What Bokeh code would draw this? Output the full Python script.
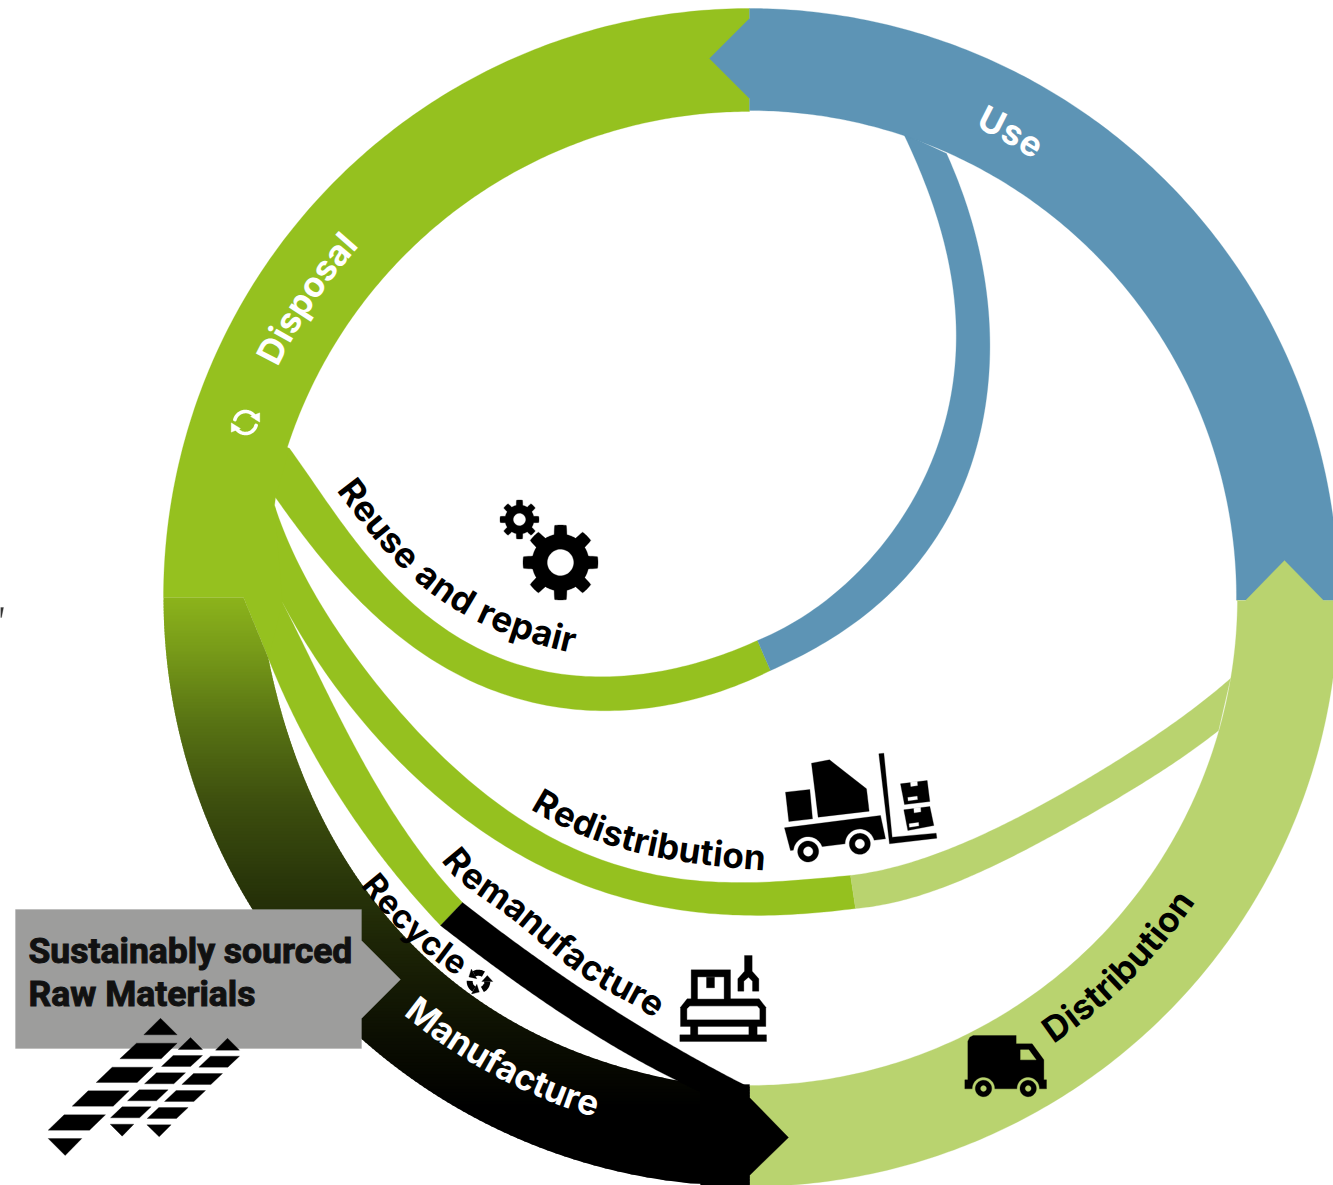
import numpy as np
from bokeh.plotting import figure
from bokeh.models import Range1d, ColumnDataSource
from bokeh.core.properties import value
from bokeh.embed import file_html
from bokeh.resources import INLINE

GREEN = "#95c11f"; BLUE = "#5d94b5"; LIGHT = "#b9d36f"; GREY = "#9d9d9c"; BLACK = "#000000"; WHITE = "#ffffff"
CX, CY = 749.0, 597.0
R_OUT, R_IN = 589.0, 488.0
FONT = "Inter"

box_label = ["Sustainably sourced", "Raw Materials"]
curved_labels = ["Reuse and repair", "Redistribution", "Remanufacture", "Recycle", "Manufacture", "Distribution", "Disposal", "Use"]

# band edges
reuse_top = [(289,448),(337,515),(397,590),(490,653),(537,669),(600,678),(680,665),(757,640)]
reuse_bot = [(275,497),(310,545),(348,590),(415,645),(490,690),(600,712),(680,700),(770,670)]
repair_in = [(757,640),(820,605),(880,545),(930,465),(955,370),(950,280),(930,195),(903,133)]
repair_out = [(770,670),(850,625),(920,560),(968,470),(990,350),(982,270),(965,200),(946,153)]
redis_top = [(274,505),(313,590),(363,669),(430,743),(490,797),(600,860),(700,880),(750,882),(850,875)]
redis_bot = [(282,602),(330,680),(377,737),(430,790),(490,837),(600,890),(700,912),(755,915),(855,908)]
redis2_top = [(850,875),(950,848),(1040,805),(1117,760),(1230,678)]
redis2_bot = [(855,908),(960,880),(1070,825),(1177,760),(1218,730)]
recyc_top = [(282,602),(312,660),(353,747),(397,817),(462,902)]
recyc_bot = [(268,658),(297,725),(324,770),(357,823),(397,877),(440,925)]
recyc2_top = [(462,902),(530,953),(630,1020),(749,1087)]
recyc2_bot = [(440,925),(497,970),(563,1012),(647,1066),(720,1100)]
manuf_inner = [(268,658),(280,713),(307,783),(345,858),(403,937),(507,1017),(643,1073),(749,1090)]
grad_y = [597, 650, 723, 800, 880, 950, 1050, 1110]
grad_rgb = [(140,180,28),(120,155,25),(88,115,20),(62,80,15),(42,55,10),(28,35,6),(10,12,2),(0,0,0)]


def curve(pts, n=120, deg=5):
    P = np.array(pts, dtype=float)
    s = np.concatenate([[0], np.cumsum(np.hypot(*np.diff(P, axis=0).T))])
    s = s / s[-1]
    deg = min(len(P)-1, deg)
    w = np.ones(len(P)); w[0] = w[-1] = 50
    t = np.linspace(0, 1, n)
    return np.column_stack([np.polyval(np.polyfit(s, P[:, k], deg, w=w), t) for k in range(2)])


def arc(r, a0, a1, n=160, rx=None):
    a = np.radians(np.linspace(a0, a1, n))
    return np.column_stack([CX + (rx or r)*np.cos(a), CY - r*np.sin(a)])


p = figure(width=1333, height=1185, x_range=Range1d(0, 1333), y_range=Range1d(1185, 0),
           output_backend="svg", toolbar_location=None, min_border=0, outline_line_color=None)
p.axis.visible = False
p.grid.visible = False
p.background_fill_color = WHITE


def poly(pts, color):
    P = np.asarray(pts, dtype=float)
    p.patch(P[:, 0], P[:, 1], fill_color=color, line_color=color, line_width=0.3)


def band(top, bot, color, deg=5):
    poly(np.vstack([curve(top, deg=deg), curve(bot, deg=deg)[::-1]]), color)


def circ(x, y, r, color):
    a = np.linspace(0, 2*np.pi, 64)
    poly(np.column_stack([x + r*np.cos(a), y + r*np.sin(a)]), color)


# disposal segment and its branches
wedge = [(243,597),(268,658),(290,655),(282,602),(295,590),(274,505),(275,497),(300,500),(289,448)]
poly(np.vstack([arc(R_OUT, 90, 180, rx=586), wedge, arc(486, 162, 90)]), GREEN)
band(reuse_top, reuse_bot, GREEN, deg=4)
band(redis_top, redis_bot, GREEN)
band(recyc_top, recyc_bot, GREEN, deg=3)

# use segment
band(repair_in, repair_out, BLUE)
poly(np.vstack([[(749,8)], arc(R_OUT, 90, -0.3), arc(487, -0.3, 90), [(749,108),(749,98),(709,58),(749,18)]]), BLUE)

# distribution segment
band(redis2_top, redis2_bot, LIGHT)
poly(np.vstack([[(1236,600),(1245,600),(1284,560),(1323,600)], arc(R_OUT, -0.3, -90), arc(R_IN, -90, -0.3)]), LIGHT)

# manufacture segment as a stack of slices, green fading to black
mi = np.vstack([[(243,597)], curve(manuf_inner)])
ys = np.arange(597, 1186, 3.0)
xs_l, ys_l, cols = [], [], []
def left_x(y):
    return CX - 586*np.sqrt(np.clip(1-((y-CY)/R_OUT)**2, 0, 1))
def right_x(y):
    return np.where(y > 1085, 749.0, np.interp(y, mi[:, 1], mi[:, 0]))
for y in ys:
    y2 = y + 4
    xs_l.append([float(left_x(y)), float(right_x(y)), float(right_x(y2)), float(left_x(y2))])
    ys_l.append([y, y, y2, y2])
    c = [int(np.interp(y+1.5, grad_y, [g[k] for g in grad_rgb])) for k in range(3)]
    cols.append("#%02x%02x%02x" % tuple(c))
p.patches(xs_l, ys_l, fill_color=cols, line_color=None)
poly([(700,1084),(749,1084),(749,1097),(788,1137),(749,1175),(749,1186),(700,1186)], BLACK)
band(recyc2_top, recyc2_bot, BLACK, deg=3)

# grey call-out
poly([(15,909),(361,909),(361,940),(400,979),(361,1018),(361,1048),(15,1048)], GREY)
p.text([28, 28], [950, 993], text=box_label, text_font=value("Roboto"), text_font_style="bold",
       text_font_size="35.5px", text_color="#111111", text_baseline="alphabetic", text_align="left",
       text_outline_color="#111111")

# stray mark on the left edge
poly([(0,607),(3,607),(1,617),(0,617)], "#333333")

# raw material icon
def zoom1(*pts):
    return [(x/3, y/3+880) for x, y in pts]
raw_shapes = [
 [(430,463),(480,413),(530,463)], [(358,535),(408,488),(530,488),(482,535)], [(287,606),(335,560),(458,560),(410,606)],
 [(215,677),(263,631),(386,631),(338,677)], [(143,749),(191,703),(315,703),(267,749)], [(143,774),(244,774),(194,825)],
 [(533,507),(570,471),(606,507)], [(483,558),(518,525),(606,525),(570,558)], [(432,610),(468,577),(555,577),(520,610)],
 [(381,661),(416,628),(503,628),(468,661)], [(330,712),(365,679),(452,679),(417,712)], [(329,731),(400,731),(365,767)],
 [(645,509),(681,473),(717,509)], [(595,560),(630,527),(717,527),(682,560)], [(544,612),(579,579),(666,579),(631,612)],
 [(492,663),(527,630),(615,630),(580,663)], [(440,714),(475,681),(563,681),(528,714)], [(439,733),(512,733),(476,769)],
]
for s in raw_shapes:
    poly(zoom1(*s), BLACK)

# forklift
def z2(*pts):
    return [(x/3+770, y/3+740) for x, y in pts]
poly(z2((45,155),(118,147),(126,235),(55,243)), BLACK)
poly(z2((123,68),(177,58),(288,145),(296,212),(143,230)), BLACK)
poly(z2((42,262),(330,225),(345,295),(60,330)), BLACK)
for wx, wy in [(113,333),(268,310)]:
    (x, y), = z2((wx, wy))
    circ(x, y, 14.5, WHITE); circ(x, y, 10.5, BLACK); circ(x, y, 4.7, WHITE)
poly(z2((325,40),(340,38),(365,290),(497,278),(499,293),(357,310)), BLACK)
poly(z2((390,130),(470,120),(478,183),(402,192)), BLACK)
poly(z2((420,125),(440,122),(441,135),(421,138)), WHITE)
poly(z2((412,171),(440,167),(441,177),(413,181)), WHITE)
poly(z2((400,208),(478,198),(490,255),(412,270)), BLACK)
poly(z2((430,203),(450,200),(451,214),(431,217)), WHITE)
poly(z2((416,250),(444,246),(445,256),(417,260)), WHITE)

# manufacturing machine
def z3(*pts):
    return [(x/3+660, y/3+940) for x, y in pts]
poly(z3((58,283),(318,283),(318,303),(58,303)), BLACK)
poly(z3((90,250),(112,250),(112,290),(90,290)), BLACK)
poly(z3((265,250),(290,250),(290,290),(265,290)), BLACK)
poly(z3((60,200),(80,175),(296,175),(316,200),(316,258),(60,258)), BLACK)
poly(z3((80,205),(88,197),(290,197),(297,205),(297,237),(80,237)), WHITE)
poly(z3((92,88),(210,88),(210,178),(92,178)), BLACK)
poly(z3((112,110),(190,110),(190,175),(112,175)), WHITE)
poly(z3((138,110),(162,110),(162,142),(138,142)), BLACK)
poly(z3((252,45),(275,45),(275,92),(295,115),(295,152),(276,152),(276,122),(264,110),(250,122),(250,152),(232,152),(232,115),(252,92)), BLACK)

# van
def z4(*pts):
    return [(x/3+950, y/3+1020) for x, y in pts]
poly(z4((52,62),(58,50),(68,45),(197,45),(197,70),(245,70),(280,118),(280,178),(288,178),(288,205),(43,205),(43,178),(52,178)), BLACK)
poly(z4((210,88),(235,88),(257,118),(210,118)), LIGHT)
for wx, wy in [(99,204),(233,204)]:
    (x, y), = z4((wx, wy))
    circ(x, y, 11, LIGHT); circ(x, y, 8.2, BLACK); circ(x, y, 2.9, LIGHT)

# gears
def gear(x0, y0, ro, rb, rh, teeth=8):
    a = np.linspace(0, 2*np.pi, 361)
    wave = np.clip(1.9*np.cos(teeth*(a-np.pi/2)) + 0.4, 0, 1)
    r = rb + (ro-rb)*wave
    poly(np.column_stack([x0 + r*np.cos(a), y0 + r*np.sin(a)]), BLACK)
    circ(x0, y0, rh, WHITE)
gear(560, 562, 37.5, 28.5, 13)
gear(519, 519, 19.5, 14.5, 6)

# refresh icon on disposal
for a0, a1 in [(165, 35), (345, 215)]:
    P = arc(11, a0, a1, n=30) + np.array([245-CX, 422-CY])
    p.line(P[:, 0], P[:, 1], line_color=WHITE, line_width=3.6, line_cap="round")
poly([(259.3,412.3),(259.3,421.7),(250,416)], WHITE)
poly([(230.7,431.7),(230.7,422.3),(240,428)], WHITE)

# recycle icon
for k in range(3):
    base = 90 + 120*k
    P = arc(8.8, base-34, base+30, n=10) + np.array([478-CX, 981-CY])
    p.line(P[:, 0], P[:, 1], line_color=BLACK, line_width=6)
    t = np.radians(base+30)
    tan = np.array([-np.sin(t), -np.cos(t)])
    nor = np.array([np.cos(t), -np.sin(t)])
    c0 = np.array([478 + 8.8*np.cos(t), 981 - 8.8*np.sin(t)])
    poly([c0 + nor*5.5, c0 - nor*5.5, c0 + tan*6], BLACK)

# curved labels, set letter by letter along their path
ADV = dict(D=.72, M=.90, R=.65, U=.73, a=.57, b=.61, c=.57, d=.61, e=.58, f=.37, i=.27, l=.27, m=.89,
           n=.60, o=.60, p=.61, r=.39, s=.54, t=.36, u=.60, y=.57)
ADV[" "] = .26


def label(txt, path, color, size):
    P = curve(path) if not isinstance(path, np.ndarray) else path
    seg = np.hypot(*np.diff(P, axis=0).T)
    S = np.concatenate([[0], np.cumsum(seg)])
    adv = np.array([ADV[c] for c in txt])
    mids = (np.cumsum(adv) - adv/2) / adv.sum() * S[-1]
    xs = np.interp(mids, S, P[:, 0]); ys = np.interp(mids, S, P[:, 1])
    dx = np.interp(mids+1, S, P[:, 0]) - np.interp(mids-1, S, P[:, 0])
    dy = np.interp(mids+1, S, P[:, 1]) - np.interp(mids-1, S, P[:, 1])
    ang = -np.arctan2(dy, dx)
    src = ColumnDataSource(dict(x=xs, y=ys, t=list(txt), a=ang))
    p.text("x", "y", text="t", angle="a", source=src, text_font=value(FONT), text_font_style="bold",
           text_font_size=f"{size}px", text_color=color, text_align="center", text_baseline="alphabetic")


label("Reuse and repair", [(346,482),(401,549),(465,600),(521,625),(575,640)], BLACK, 35)
label("Redistribution", [(536,797),(603,829),(682,848),(765,857)], BLACK, 35)
label("Remanufacture", [(451,851),(491,888),(529,916),(563,945),(633,990),(661,1008)], BLACK, 35)
label("Recycle", [(369,877),(410,923),(436,946),(464,966)], BLACK, 33)
label("Manufacture", arc(529, 230.3, 253.4, n=60), WHITE, 35)
label("Distribution", arc(527, -55.8, -34.3, n=60), BLACK, 35)
label("Disposal", arc(538, 154, 138, n=60), WHITE, 35)
label("Use", arc(535, 64.5, 57, n=30), WHITE, 35)

open("out.html", "w").write(file_html(p, INLINE))
